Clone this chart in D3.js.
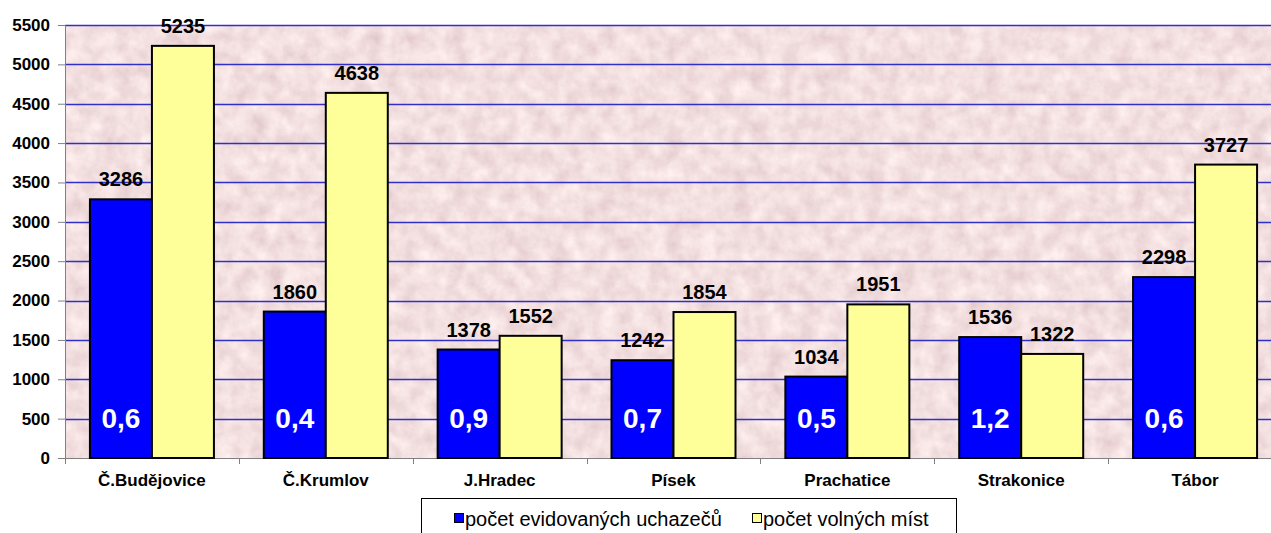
<!DOCTYPE html>
<html>
<head>
<meta charset="utf-8">
<script src="https://cdn.jsdelivr.net/npm/d3@7"></script>
<style>
body { margin: 0; background: #fff; }
svg { display: block; font-family: "Liberation Sans", Arial, sans-serif; }
</style>
</head>
<body>
<svg id="chart" width="1271" height="533"></svg>
<script>
var categories = ["Č.Budějovice", "Č.Krumlov", "J.Hradec", "Písek", "Prachatice", "Strakonice", "Tábor"];
var uchazeci = [3286, 1860, 1378, 1242, 1034, 1536, 2298];
var mista = [5235, 4638, 1552, 1854, 1951, 1322, 3727];
var podil = ["0,6", "0,4", "0,9", "0,7", "0,5", "1,2", "0,6"];
var seriesNames = ["počet evidovaných uchazečů", "počet volných míst"];
var yTicks = d3.range(0, 5501, 500);

var plotLeft = 65, plotTop = 25, plotRight = 1282, plotBottom = 458,
	colors = ["#0000ff", "#ffff99"];

var svg = d3.select("#chart");

var x0 = d3.scaleBand().domain(categories).range([plotLeft, plotRight]);
var x1 = d3.scaleBand().domain([0, 1])
	.range([x0.bandwidth() / 2 - 62, x0.bandwidth() / 2 + 62]);
var y = d3.scaleLinear().domain([0, 5500]).range([plotBottom, plotTop]);

// pink granite texture
var defs = svg.append("defs");
var f = defs.append("filter").attr("id", "granite")
	.attr("x", 0).attr("y", 0).attr("width", 1).attr("height", 1);
f.append("feTurbulence").attr("type", "fractalNoise")
	.attr("baseFrequency", "0.06").attr("numOctaves", 5).attr("seed", 3);
f.append("feColorMatrix").attr("type", "matrix")
	.attr("values", "0.3 0 0 0 0.745  0.36 0 0 0 0.56  0.34 0 0 0 0.575  0 0 0 0 1");

svg.append("rect")
	.attr("x", plotLeft).attr("y", plotTop)
	.attr("width", 1271 - plotLeft).attr("height", plotBottom - plotTop)
	.attr("fill", "#e4bcbe");
svg.append("rect")
	.attr("x", plotLeft).attr("y", plotTop)
	.attr("width", 1271 - plotLeft).attr("height", plotBottom - plotTop)
	.attr("filter", "url(#granite)");

// gridlines
svg.append("g").selectAll("line")
	.data(yTicks.slice(1))
	.enter().append("line")
	.attr("x1", plotLeft).attr("x2", 1271)
	.attr("y1", function(d) { return Math.round(y(d)) + 0.5; })
	.attr("y2", function(d) { return Math.round(y(d)) + 0.5; })
	.attr("stroke", "#3030c8")
	.attr("stroke-width", 1.3);

// y axis
var yAxis = d3.axisLeft(y).tickValues(yTicks).tickSize(7).tickPadding(8)
	.tickFormat(d3.format("d"));
var gy = svg.append("g")
	.attr("transform", "translate(" + plotLeft + ",0)")
	.call(yAxis);
gy.select(".domain").attr("stroke", "#808080");
gy.selectAll(".tick line").attr("stroke", "#808080");
gy.selectAll("text")
	.attr("font-size", "17px").attr("font-weight", "bold")
	.attr("fill", "#000")
	.attr("font-family", "Liberation Sans, Arial, sans-serif");

// x axis
svg.append("line")
	.attr("x1", plotLeft).attr("x2", 1271)
	.attr("y1", plotBottom + 0.5).attr("y2", plotBottom + 0.5)
	.attr("stroke", "#808080");
svg.append("g").selectAll("line")
	.data(categories)
	.enter().append("line")
	.attr("x1", function(d) { return Math.round(x0(d)) + 0.5; })
	.attr("x2", function(d) { return Math.round(x0(d)) + 0.5; })
	.attr("y1", plotBottom).attr("y2", plotBottom + 6)
	.attr("stroke", "#808080");
svg.append("g").selectAll("text")
	.data(categories)
	.enter().append("text")
	.attr("x", function(d) { return x0(d) + x0.bandwidth() / 2; })
	.attr("y", 486)
	.attr("text-anchor", "middle")
	.attr("font-size", "17px").attr("font-weight", "bold")
	.text(function(d) { return d; });

// bars
var rows = categories.map(function(c, i) {
	return { cat: c, vals: [uchazeci[i], mista[i]], podil: podil[i] };
});

var group = svg.selectAll(".group")
	.data(rows)
	.enter().append("g")
	.attr("class", "group")
	.attr("transform", function(d) { return "translate(" + x0(d.cat) + ",0)"; });

group.selectAll("rect")
	.data(function(d) { return d.vals.map(function(v, k) { return { k: k, v: v }; }); })
	.enter().append("rect")
	.attr("x", function(d) { return x1(d.k); })
	.attr("y", function(d) { return y(d.v); })
	.attr("width", x1.bandwidth())
	.attr("height", function(d) { return plotBottom - y(d.v); })
	.attr("fill", function(d) { return colors[d.k]; })
	.attr("stroke", "#000")
	.attr("stroke-width", 2);

group.selectAll(".val")
	.data(function(d) { return d.vals.map(function(v, k) { return { k: k, v: v }; }); })
	.enter().append("text")
	.attr("class", "val")
	.attr("x", function(d) { return x1(d.k) + x1.bandwidth() / 2; })
	.attr("y", function(d) { return y(d.v) - 13; })
	.attr("text-anchor", "middle")
	.attr("font-size", "20px").attr("font-weight", "bold")
	.text(function(d) { return d.v; });

group.append("text")
	.attr("x", x1(0) + x1.bandwidth() / 2)
	.attr("y", 428)
	.attr("text-anchor", "middle")
	.attr("font-size", "28px").attr("font-weight", "bold")
	.attr("fill", "#fff")
	.text(function(d) { return d.podil; });

// legend
var lg = svg.append("g");
lg.append("rect")
	.attr("x", 421.5).attr("y", 498.5)
	.attr("width", 535).attr("height", 40)
	.attr("fill", "#fff").attr("stroke", "#000");
var items = lg.selectAll(".item")
	.data(seriesNames)
	.enter().append("g")
	.attr("transform", function(d, i) { return "translate(" + [454, 752][i] + ",0)"; });
items.append("rect")
	.attr("x", 0.5).attr("y", 513.5)
	.attr("width", 9).attr("height", 9)
	.attr("fill", function(d, i) { return colors[i]; })
	.attr("stroke", "#000");
items.append("text")
	.attr("x", 11).attr("y", 526)
	.attr("font-size", "20px")
	.text(function(d) { return d; });
</script>
</body>
</html>
